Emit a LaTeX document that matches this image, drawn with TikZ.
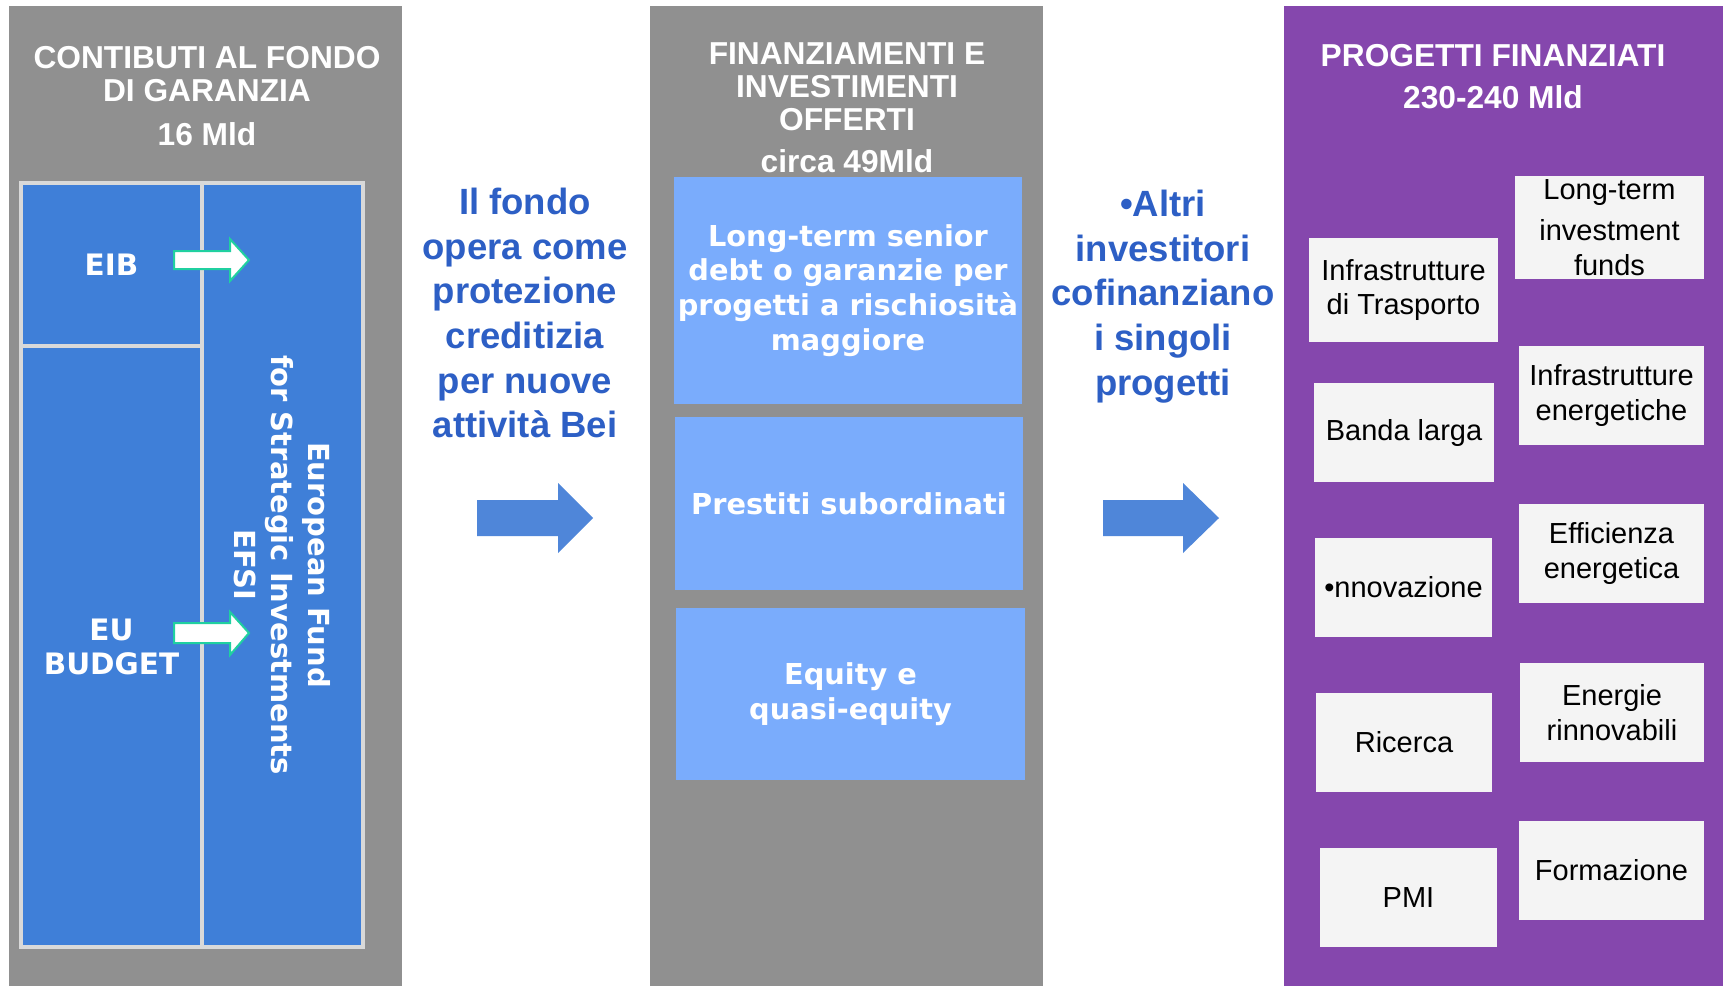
\documentclass[tikz,border=0pt]{standalone}
\usepackage{fontspec}
\setmainfont{Liberation Sans}
\newfontfamily\verd{DejaVu Sans}
\definecolor{panelgray}{HTML}{909090}
\definecolor{cellblue}{HTML}{3F7FD8}
\definecolor{framegray}{HTML}{D9D9D9}
\definecolor{lightblue}{HTML}{7AACFC}
\definecolor{projpurple}{HTML}{8547AD}
\definecolor{boxwhite}{HTML}{F4F4F4}
\definecolor{textblue}{HTML}{2D5FC5}
\definecolor{arrowblue}{HTML}{4F86D9}
\definecolor{arrowteal}{HTML}{20D0A0}
\tikzset{
  panel/.style={inner sep=0, outer sep=0, anchor=north west},
  titletext/.style={text=white, font=\bfseries\fontsize{31.7}{33}\selectfont, align=center, inner sep=0, anchor=north},
  cell/.style={fill=cellblue, draw=framegray, line width=4pt, inner sep=0, outer sep=0, anchor=north west, text=white, font=\verd\bfseries\fontsize{29.5}{34}\selectfont, align=center},
  offerbox/.style={fill=lightblue, inner sep=0, outer sep=0, text=white, font=\verd\bfseries\fontsize{28.8}{34.7}\selectfont, align=center, anchor=north west},
  projbox/.style={fill=boxwhite, inner sep=0, outer sep=0, text=black, font=\fontsize{29}{34.5}\selectfont, align=center, anchor=north west},
  flowtext/.style={text=textblue, font=\bfseries\fontsize{36.5}{44.6}\selectfont, align=center, inner sep=0, anchor=north},
  smallarrow/.style={fill=white, draw=arrowteal, line width=2pt, line join=miter},
  bigarrow/.style={fill=arrowblue}
}
\begin{document}
\begin{tikzpicture}[x=1pt,y=-1pt]
\useasboundingbox (0,0) rectangle (1723,987);
\fill[white] (0,0) rectangle (1723,987);
% panels
\node[panel, fill=panelgray, minimum width=393, minimum height=980] (p1) at (9,6) {};
\node[panel, fill=panelgray, minimum width=393, minimum height=980] (p2) at (650,6) {};
\node[panel, fill=projpurple, minimum width=439, minimum height=980] (p3) at (1284,6) {};
% titles
\node[titletext] (t1) at (207,46) {CONTIBUTI AL FONDO\\DI GARANZIA\\[11pt]16 Mld};
\node[titletext] (t2) at (847,42) {FINANZIAMENTI E\\INVESTIMENTI\\OFFERTI\\[9pt]circa 49Mld};
\node[titletext] (t3) at (1493,44) {PROGETTI FINANZIATI\\[9pt]230-240 Mld};
% left cells
\node[cell, minimum width=181, minimum height=163] (eib) at (21,183) {EIB};
\node[cell, minimum width=181, minimum height=601] (eu) at (21,346) {EU\\BUDGET};
\node[cell, minimum width=161, minimum height=764] (efsi) at (202,183) {};
\node[rotate=-90, text=white, inner sep=0, align=center, font=\verd\bfseries\fontsize{29}{37}\selectfont] (efsitext) at (efsi.center) {European Fund\\for Strategic Investments\\EFSI};
\filldraw[smallarrow] (174,251) -- (230,251) -- (230,239) -- (249,260) -- (230,281) -- (230,269) -- (174,269) -- cycle;
\filldraw[smallarrow] (174,623) -- (230,623) -- (230,612) -- (249,633) -- (230,655) -- (230,643) -- (174,643) -- cycle;
% middle boxes
\node[offerbox, minimum width=348, minimum height=227] (o1) at (674,177) {Long-term senior\\debt o garanzie per\\progetti a rischiosità\\maggiore};
\node[offerbox, minimum width=348, minimum height=173] (o2) at (675,417) {Prestiti subordinati};
\node[offerbox, minimum width=349, minimum height=172] (o3) at (676,608) {Equity e\\quasi-equity};
% flow texts
\node[flowtext] (f1) at (525,188) {Il fondo\\opera come\\protezione\\creditizia\\per nuove\\attività Bei};
\node[flowtext] (f2) at (1163,190) {•Altri\\investitori\\cofinanziano\\i singoli\\progetti};
% big arrows
\fill[bigarrow] (477,500) -- (558,500) -- (558,483) -- (593,518) -- (558,553) -- (558,536) -- (477,536) -- cycle;
\fill[bigarrow] (1103,500) -- (1183,500) -- (1183,483) -- (1219,518) -- (1183,553) -- (1183,536) -- (1103,536) -- cycle;
% project boxes
\node[projbox, minimum width=189, minimum height=103, font=\fontsize{29}{35}\selectfont] (pb1) at (1515,176) {Long-term\\[6pt]investment\\funds};
\node[projbox, minimum width=189, minimum height=104] (pb2) at (1309,238) {Infrastrutture\\di Trasporto};
\node[projbox, minimum width=180, minimum height=99] (pb3) at (1314,383) {Banda larga};
\node[projbox, minimum width=185, minimum height=99] (pb4) at (1519,346) {Infrastrutture\\energetiche};
\node[projbox, minimum width=185, minimum height=99] (pb5) at (1519,504) {Efficienza\\energetica};
\node[projbox, minimum width=177, minimum height=99] (pb6) at (1315,538) {•nnovazione};
\node[projbox, minimum width=184, minimum height=99] (pb7) at (1520,663) {Energie\\rinnovabili};
\node[projbox, minimum width=176, minimum height=99] (pb8) at (1316,693) {Ricerca};
\node[projbox, minimum width=185, minimum height=99] (pb9) at (1519,821) {Formazione};
\node[projbox, minimum width=177, minimum height=99] (pb10) at (1320,848) {PMI};
\end{tikzpicture}
\end{document}
